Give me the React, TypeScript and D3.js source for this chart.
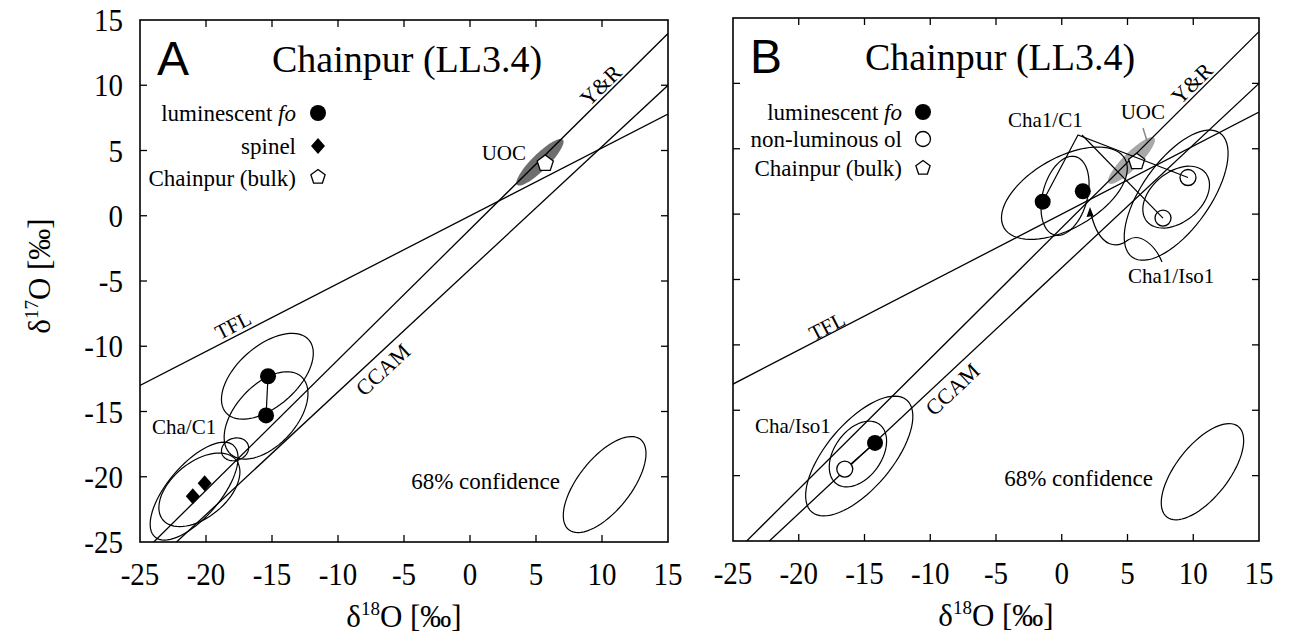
import React from "react";
import * as d3 from "d3";

// axis range shared by both panels (permil)
const domain: [number, number] = [-25, 15];
const tickValues = [-25, -20, -15, -10, -5, 0, 5, 10, 15];

// reference fractionation lines: d17O = slope * d18O + intercept
const refLines = [
  { name: "TFL", slope: 0.52, intercept: 0 },
  { name: "Y&R", slope: 1.0, intercept: -1.04 },
  { name: "CCAM", slope: 0.94, intercept: -4.1 },
];

// bulk and UOC field
const bulkChainpur: [number, number] = [5.7, 4.0];
const uocField = { cx: 5.3, cy: 4.1, a: 2.45, b: 0.62, angle: 45 };

// panel A
const foA: [number, number][] = [[-15.3, -12.3], [-15.45, -15.3]];
const spinelA: [number, number][] = [[-21.0, -21.5], [-20.1, -20.5]];
const ellipsesA = [
  { cx: -15.35, cy: -12.3, a: 4.2, b: 2.3, angle: 42 },
  { cx: -15.45, cy: -15.3, a: 4.0, b: 2.3, angle: 48 },
  { cx: -17.8, cy: -17.9, a: 1.05, b: 0.85, angle: 20 },
  { cx: -20.9, cy: -21.1, a: 4.6, b: 2.0, angle: 50 },
  { cx: -20.5, cy: -21.0, a: 3.6, b: 2.1, angle: 40 },
];
const confA = { cx: 10.2, cy: -20.6, a: 4.4, b: 2.0, angle: 52 };

// panel B
const foB: [number, number][] = [[-1.45, 0.95], [1.6, 1.75], [-14.2, -17.5]];
const olB: [number, number][] = [[9.6, 2.8], [7.7, -0.3], [-16.5, -19.5]];
const ellipsesB = [
  { cx: 0.2, cy: 1.6, a: 5.3, b: 2.7, angle: 30 },
  { cx: 0.25, cy: 1.4, a: 3.1, b: 1.7, angle: 75 },
  { cx: 8.7, cy: 1.45, a: 5.8, b: 2.6, angle: 55 },
  { cx: 8.7, cy: 1.3, a: 2.9, b: 1.9, angle: 40 },
  { cx: -15.4, cy: -18.5, a: 5.6, b: 2.5, angle: 50 },
  { cx: -15.5, cy: -18.35, a: 2.8, b: 1.8, angle: 55 },
];
const confB = { cx: 10.7, cy: -19.7, a: 4.4, b: 2.0, angle: 52 };

const serif = "'Liberation Serif', 'Times New Roman', serif";
const sans = "'Liberation Sans', Arial, sans-serif";

type Ell = { cx: number; cy: number; a: number; b: number; angle: number };

function ellipsePath(e: Ell, x: d3.ScaleLinear<number, number>, y: d3.ScaleLinear<number, number>) {
  const th = (e.angle * Math.PI) / 180;
  const pts = d3.range(0, 73).map((i) => {
    const t = (i / 72) * 2 * Math.PI;
    const dx = e.a * Math.cos(t), dy = e.b * Math.sin(t);
    return [e.cx + dx * Math.cos(th) - dy * Math.sin(th), e.cy + dx * Math.sin(th) + dy * Math.cos(th)] as [number, number];
  });
  return d3.line<[number, number]>().x((d) => x(d[0])).y((d) => y(d[1])).curve(d3.curveLinearClosed)(pts) || "";
}

function pentagon(px: number, py: number, r: number) {
  return d3.range(5).map((i) => {
    const a = -Math.PI / 2 + (i * 2 * Math.PI) / 5;
    return `${px + r * Math.cos(a)},${py + r * Math.sin(a)}`;
  }).join(" ");
}

function Panel({ id, left, right, top, bottom, letter, showY, children, legend, lineLabels, uocFill }: any) {
  const x = d3.scaleLinear().domain(domain).range([left, right]);
  const y = d3.scaleLinear().domain(domain).range([bottom, top]);
  const slopeAngle = (s: number) => (-Math.atan((s * (bottom - top)) / (right - left)) * 180) / Math.PI;
  return (
    <g>
      <defs>
        <clipPath id={id}>
          <rect x={left} y={top} width={right - left} height={bottom - top} />
        </clipPath>
      </defs>
      <g clipPath={`url(#${id})`}>
        <path d={ellipsePath(uocField, x, y)} fill={uocFill} stroke="none" />
        {refLines.map((l) => (
          <line key={l.name} x1={x(-25)} y1={y(l.slope * -25 + l.intercept)} x2={x(15)} y2={y(l.slope * 15 + l.intercept)}
            stroke="#000" strokeWidth={1.3} />
        ))}
        {children(x, y)}
      </g>
      {lineLabels.map((ll: any) => {
        const ref = refLines.find((r) => r.name === ll.name)!;
        return (
          <text key={ll.name} transform={`translate(${x(ll.x)},${y(ll.y)}) rotate(${slopeAngle(ref.slope)})`}
            textAnchor="middle" dominantBaseline="central" fontFamily={serif} fontSize={ll.size}>{ll.name}</text>
        );
      })}
      <polygon points={pentagon(x(bulkChainpur[0]), y(bulkChainpur[1]), 8.5)} fill="#fff" stroke="#000" strokeWidth={1.3} />
      <rect x={left} y={top} width={right - left} height={bottom - top} fill="none" stroke="#000" strokeWidth={1.6} />
      {tickValues.slice(1, -1).map((t) => (
        <g key={t} stroke="#000" strokeWidth={1.3}>
          <line x1={x(t)} x2={x(t)} y1={bottom} y2={bottom - 7} />
          <line x1={x(t)} x2={x(t)} y1={top} y2={top + 7} />
          <line y1={y(t)} y2={y(t)} x1={left} x2={left + 7} />
          <line y1={y(t)} y2={y(t)} x1={right} x2={right - 7} />
        </g>
      ))}
      {tickValues.map((t) => (
        <text key={"x" + t} transform={`translate(${x(t)},${bottom + 43}) scale(1,1.12)`} textAnchor="middle" fontFamily={serif} fontSize={29}>{t}</text>
      ))}
      {showY && tickValues.map((t) => (
        <text key={"y" + t} transform={`translate(${left - 17},${y(t) + 11}) scale(1,1.12)`} textAnchor="end" fontFamily={serif} fontSize={29}>{t}</text>
      ))}
      <text x={(left + right) / 2} y={bottom + 85} textAnchor="middle" fontFamily={serif} fontSize={31}>
        δ<tspan dy={-12} fontSize={19}>18</tspan><tspan dy={12}>O [‰]</tspan>
      </text>
      {showY && (
        <text transform={`translate(50,${(top + bottom) / 2 - 5}) rotate(-90)`} textAnchor="middle" fontFamily={serif} fontSize={31}>
          δ<tspan dy={-12} fontSize={19}>17</tspan><tspan dy={12}>O [‰]</tspan>
        </text>
      )}
      <text x={left + 17} y={top + 55} fontFamily={sans} fontSize={48}>{letter}</text>
      <text x={left + 132} y={top + 52} fontFamily={serif} fontSize={38}>Chainpur (LL3.4)</text>
      {legend(x, y)}
    </g>
  );
}

export default function App() {
  const legendText = { fontFamily: serif, fontSize: 23, textAnchor: "end" as const };
  const thin = { fill: "none", stroke: "#000", strokeWidth: 1.2 };
  return (
    <div style={{ position: "absolute", left: 0, top: 0, background: "#fff" }}>
      <svg width={1291} height={643} viewBox="0 0 1291 643" style={{ display: "block" }}>
        <rect width={1291} height={643} fill="#fff" />
        <Panel id="clipA" left={140} right={668} top={20} bottom={542} letter="A" showY uocFill="#6e6e6e"
          lineLabels={[
            { name: "TFL", x: -17.95, y: -8.4, size: 21 },
            { name: "CCAM", x: -6.6, y: -11.8, size: 22 },
            { name: "Y&R", x: 9.9, y: 10.0, size: 22 },
          ]}
          children={(x: any, y: any) => (
            <g>
              {ellipsesA.map((e, i) => <path key={i} d={ellipsePath(e, x, y)} {...thin} />)}
              <line x1={x(foA[0][0])} y1={y(foA[0][1])} x2={x(foA[1][0])} y2={y(foA[1][1])} {...thin} />
              {foA.map((p, i) => <circle key={i} cx={x(p[0])} cy={y(p[1])} r={8} fill="#000" />)}
              {spinelA.map((p, i) => (
                <path key={i} d={`M${x(p[0])},${y(p[1]) - 8}l7,8l-7,8l-7,-8z`} fill="#000" />
              ))}
              <path d={ellipsePath(confA, x, y)} {...thin} />
            </g>
          )}
          legend={() => (
            <g>
              <text x={296} y={121} {...legendText}>luminescent <tspan fontStyle="italic">fo</tspan></text>
              <circle cx={318} cy={113} r={8} fill="#000" />
              <text x={296} y={154} {...legendText}>spinel</text>
              <path d="M318,138l7,8l-7,8l-7,-8z" fill="#000" />
              <text x={296} y={186} {...legendText}>Chainpur (bulk)</text>
              <polygon points={pentagon(318, 177, 7.5)} fill="#fff" stroke="#000" strokeWidth={1.3} />
              <text x={526} y={160} fontFamily={serif} fontSize={21} textAnchor="end">UOC</text>
              <text x={152} y={434} fontFamily={serif} fontSize={21}>Cha/C1</text>
              <text x={560} y={489} fontFamily={serif} fontSize={23} textAnchor="end">68% confidence</text>
            </g>
          )}
        />
        <Panel id="clipB" left={733} right={1259} top={18} bottom={541} letter="B" showY={false} uocFill="#a8a8a8"
          lineLabels={[
            { name: "TFL", x: -17.85, y: -8.6, size: 21 },
            { name: "CCAM", x: -8.3, y: -13.4, size: 22 },
            { name: "Y&R", x: 9.9, y: 10.0, size: 22 },
          ]}
          children={(x: any, y: any) => (
            <g>
              {ellipsesB.map((e, i) => <path key={i} d={ellipsePath(e, x, y)} {...thin} />)}
              <line x1={x(foB[2][0])} y1={y(foB[2][1])} x2={x(olB[2][0])} y2={y(olB[2][1])} {...thin} />
              {foB.map((p, i) => <circle key={i} cx={x(p[0])} cy={y(p[1])} r={8} fill="#000" />)}
              {olB.map((p, i) => <circle key={i} cx={x(p[0])} cy={y(p[1])} r={8} fill="#fff" stroke="#000" strokeWidth={1.3} />)}
              <path d={ellipsePath(confB, x, y)} {...thin} />
            </g>
          )}
          legend={(x: any, y: any) => (
            <g>
              <text x={902} y={120} {...legendText}>luminescent <tspan fontStyle="italic">fo</tspan></text>
              <circle cx={923} cy={112} r={8} fill="#000" />
              <text x={902} y={147} {...legendText}>non-luminous ol</text>
              <circle cx={923} cy={139} r={7.5} fill="#fff" stroke="#000" strokeWidth={1.3} />
              <text x={902} y={176} {...legendText}>Chainpur (bulk)</text>
              <polygon points={pentagon(923, 168, 7.5)} fill="#fff" stroke="#000" strokeWidth={1.3} />
              <text x={1165} y={119} fontFamily={serif} fontSize={21} textAnchor="end">UOC</text>
              <line x1={1143} y1={128} x2={1147} y2={141} stroke="#888" strokeWidth={1.5} />
              <text x={1008} y={127} fontFamily={serif} fontSize={21}>Cha1/C1</text>
              <polyline points={`${x(foB[0][0])},${y(foB[0][1])} 1078,135 ${x(olB[0][0])},${y(olB[0][1])}`} {...thin} />
              <polyline points={`1082,135 ${x(olB[1][0])},${y(olB[1][1])}`} {...thin} />
              <text x={1128} y={283} fontFamily={serif} fontSize={21}>Cha1/Iso1</text>
              <path d={`M1162,262 C1155,245 1140,232 1128,240 C1118,248 1100,250 1091,214`} {...thin} />
              <path d="M1090,207 l-3.5,10 l7,-1 z" fill="#000" />
              <text x={755} y={433} fontFamily={serif} fontSize={21}>Cha/Iso1</text>
              <text x={1153} y={486} fontFamily={serif} fontSize={23} textAnchor="end">68% confidence</text>
            </g>
          )}
        />
      </svg>
    </div>
  );
}
